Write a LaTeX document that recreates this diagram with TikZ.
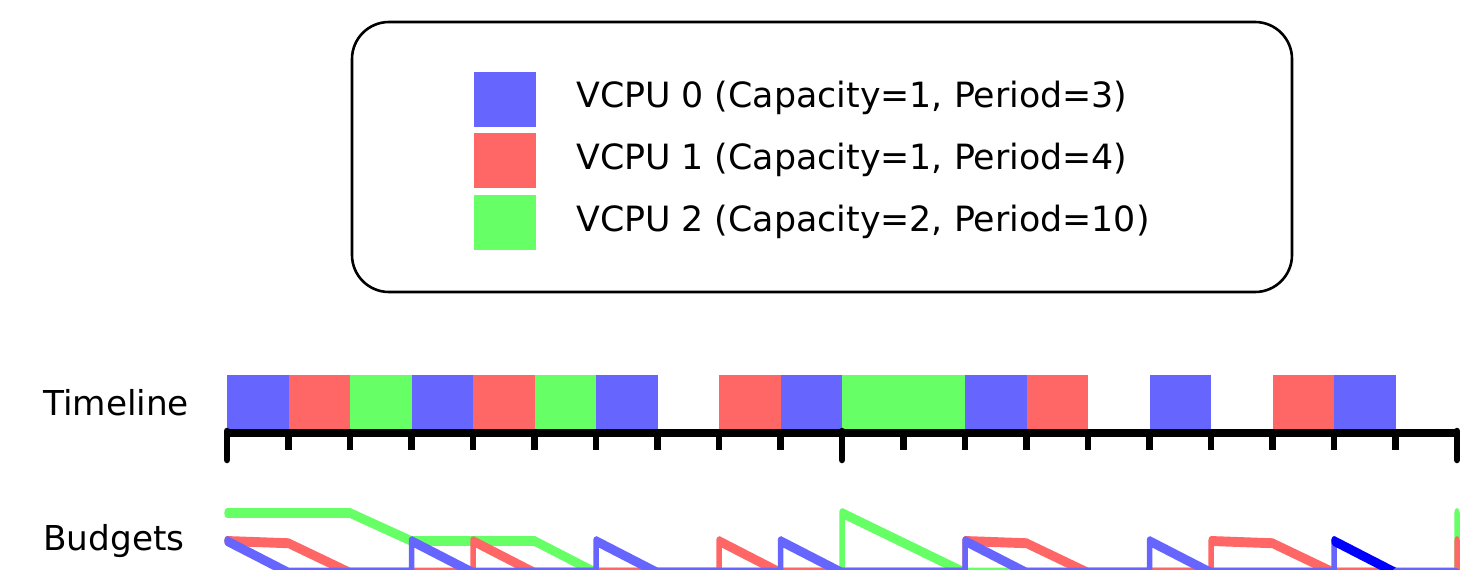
\documentclass[tikz,border=0pt]{standalone}
\usepackage{fontspec}
\setmainfont{DejaVu Sans}
\definecolor{cblue}{RGB}{102,102,255}
\definecolor{cred}{RGB}{255,102,102}
\definecolor{cgreen}{RGB}{102,255,102}
\definecolor{cdblue}{RGB}{0,0,255}
\tikzset{
  lbl/.style={inner sep=0pt, anchor=base west, font=\fontsize{34.3}{40}\selectfont},
  leg/.style={lbl, font=\fontsize{34.8}{40}\selectfont},
  budget/.style={line width=5.5pt, line cap=round, line join=round},
  tick/.style={line width=6.5pt},
}
\def\zz{-0.13}
\begin{document}
\begin{tikzpicture}[x=1pt,y=-1pt]
\useasboundingbox (0,0) rectangle (1460,570);
\clip (0,0) rectangle (1460,570);
% legend
\draw[line width=2.6pt, rounded corners=37pt] (352,22) rectangle (1292,292);
\fill[cblue]  (474,72)  rectangle (536,127);
\fill[cred]   (474,133) rectangle (536,188);
\fill[cgreen] (474,195) rectangle (536,250);
\node[leg] (l0) at (576,107) {VCPU 0 (Capacity=1, Period=3)};
\node[leg] (l1) at (576,169) {VCPU 1 (Capacity=1, Period=4)};
\node[leg] (l2) at (576,231) {VCPU 2 (Capacity=2, Period=10)};
% labels
\node[lbl] (tl) at (43,415) {Timeline};
\node[lbl] (bl) at (43,550) {Budgets};
% timeline
\begin{scope}[shift={(227,0)}, x=61.5pt]
  \foreach \a/\b/\c in {0/1/cblue,1/2/cred,2/3/cgreen,3/4/cblue,4/5/cred,5/6/cgreen,6/7/cblue,8/9/cred,9/10/cblue,10/12/cgreen,12/13/cblue,13/14/cred,15/16/cblue,17/18/cred,18/19/cblue}
    \fill[\c] (\a,375) rectangle (\b,430.5);
  \draw[line width=8.5pt] (0,433) -- (20,433);
  \foreach \t in {1,...,9,11,12,...,19}
    \draw[tick] (\t,433) -- (\t,450);
  \foreach \t in {0,10,20}
    \draw[tick, line cap=round] (\t,431) -- (\t,460);
\end{scope}
% budgets
\begin{scope}[transform canvas={yscale=1.8}, shift={(227,316.111)}, x=61.5pt, y=15.556pt]
  \draw[budget, cgreen] (0,2) -- (2,2) -- (3,1) -- (5,1) -- (6,\zz) -- (10,\zz) -- (10,2) -- (12,\zz) -- (20,\zz) -- (20,2);
  \draw[budget, cred] (0,1) -- (1,0.92) -- (2,\zz) -- (4,\zz) -- (4,1) -- (5,\zz) -- (8,\zz) -- (8,1) -- (9,\zz) -- (12,\zz) -- (12,1) -- (13,0.92) -- (14,\zz) -- (16,\zz) -- (16,1) -- (17,0.92) -- (18,\zz) -- (20,\zz) -- (20,1);
  \draw[budget, cblue] (0,1) -- (1,\zz) -- (3,\zz) -- (3,1) -- (4,\zz) -- (6,\zz) -- (6,1) -- (7,\zz) -- (9,\zz) -- (9,1) -- (10,\zz) -- (12,\zz) -- (12,1) -- (13,\zz) -- (15,\zz) -- (15,1) -- (16,\zz) -- (18,\zz) -- (18,1);
  \draw[budget, cdblue] (18,1) -- (19,\zz);
  \draw[budget, cblue] (19,\zz) -- (20,\zz);
\end{scope}
\end{tikzpicture}
\end{document}
